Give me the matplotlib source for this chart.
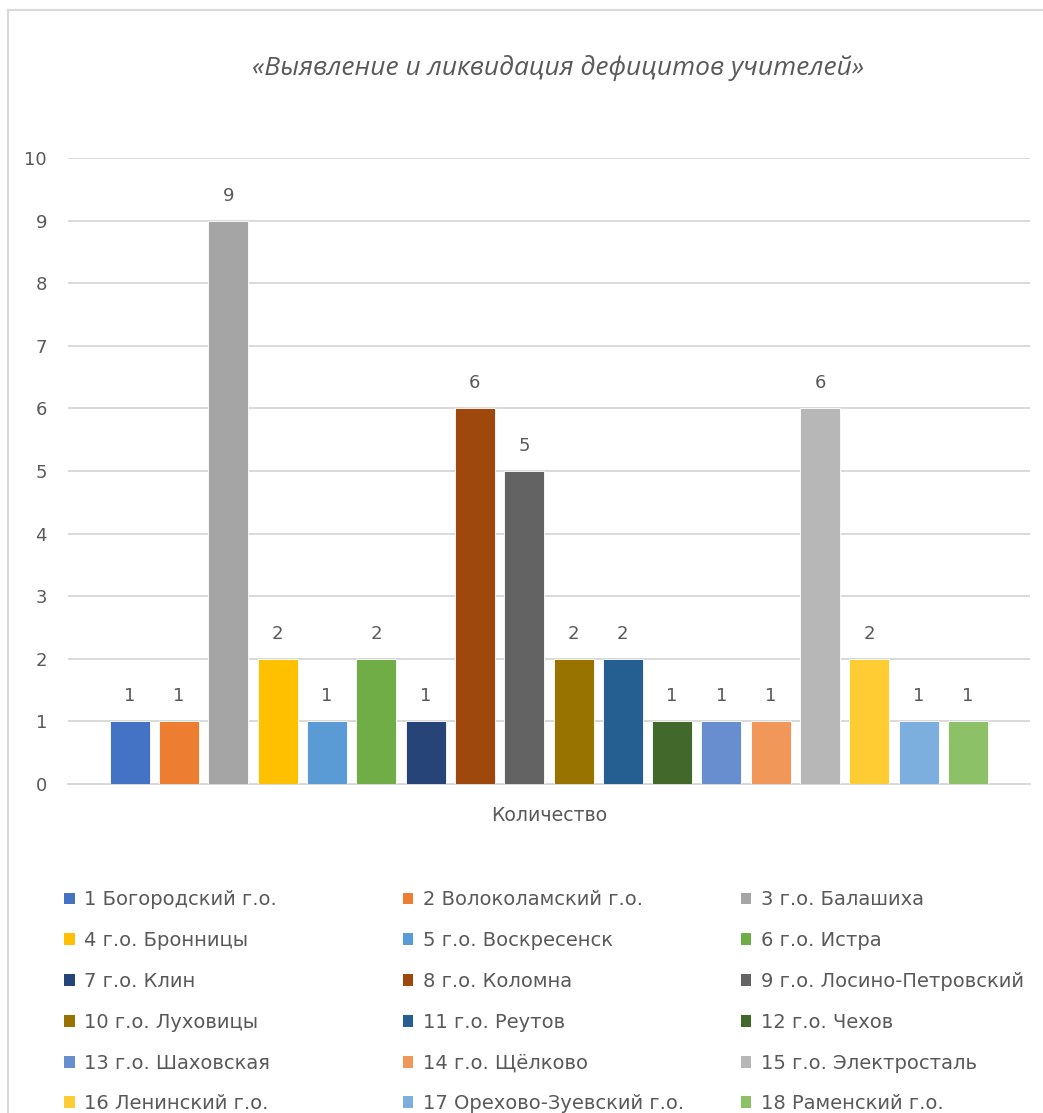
import matplotlib
matplotlib.use("Agg")
import matplotlib.pyplot as plt
from matplotlib.patches import Patch
from matplotlib.lines import Line2D

plt.rcParams['font.family'] = ['DejaVu Sans']

title = "«Выявление и ликвидация дефицитов учителей»"
category = "Количество"
names = ["1 Богородский г.о.", "2 Волоколамский г.о.", "3 г.о. Балашиха",
         "4 г.о. Бронницы", "5 г.о. Воскресенск", "6 г.о. Истра",
         "7 г.о. Клин", "8 г.о. Коломна", "9 г.о. Лосино-Петровский",
         "10 г.о. Луховицы", "11 г.о. Реутов", "12 г.о. Чехов",
         "13 г.о. Шаховская", "14 г.о. Щёлково", "15 г.о. Электросталь",
         "16 Ленинский г.о.", "17 Орехово-Зуевский г.о.", "18 Раменский г.о."]
values = [1, 1, 9, 2, 1, 2, 1, 6, 5, 2, 2, 1, 1, 1, 6, 2, 1, 1]
colors = ["#4472C4", "#ED7D31", "#A5A5A5", "#FFC000", "#5B9BD5", "#70AD47",
          "#264478", "#9E480E", "#636363", "#997300", "#255E91", "#43682B",
          "#698ED0", "#F1975A", "#B7B7B7", "#FFCD33", "#7CAFDD", "#8CC168"]

txt = "#595959"
grid = "#D9D9D9"

fig = plt.figure(figsize=(10.43, 11.13), dpi=100)
ax = fig.add_axes([0.065, 0.2956, 0.9225, 0.5624])

n = len(values)
pitch = 0.05125
width = 0.0416
for i in range(n):
    x = (i - (n - 1) / 2) * pitch
    ax.bar(x, values[i], width=width, color=colors[i], edgecolor="white", linewidth=0.6, zorder=3)
    ax.text(x, values[i] + 0.4, str(values[i]), ha="center", va="center", fontsize=13, color=txt)

ax.set_xlim(-0.5, 0.5)
ax.set_ylim(0, 10)
ax.set_yticks(range(0, 11))
ax.set_xticks([0])
ax.set_xticklabels([category])
ax.tick_params(axis="y", length=0, pad=15, labelsize=13, labelcolor=txt)
ax.tick_params(axis="x", length=0, pad=16, labelsize=13.6, labelcolor=txt)
ax.grid(axis="y", color=grid, linewidth=1.4, zorder=0)
for s in ["left", "right", "top"]:
    ax.spines[s].set_visible(False)
ax.spines["bottom"].set_color(grid)
ax.spines["bottom"].set_linewidth(1.4)

fig.text(0.535, 0.939, title, ha="center", va="center", fontsize=19,
         style="italic", color=txt, family=["Open Sans", "DejaVu Sans"])

handles = [Patch(facecolor=c, edgecolor="none") for c in colors]
col_x = [0.061, 0.386, 0.710]
for j in range(3):
    idx = list(range(j, n, 3))
    fig.legend([handles[i] for i in idx], [names[i] for i in idx],
               loc="upper left", bbox_to_anchor=(col_x[j], 0.2),
               frameon=False, fontsize=14, labelcolor=txt,
               handlelength=0.56, handleheight=0.56, handletextpad=0.5,
               labelspacing=1.12, borderpad=0, borderaxespad=0)

fig.add_artist(Line2D([0.0077, 0.0077], [0, 0.991], color=grid, linewidth=1.5))
fig.add_artist(Line2D([0.0077, 1.0], [0.991, 0.991], color=grid, linewidth=1.5))

fig.savefig("out.png", dpi=100)
